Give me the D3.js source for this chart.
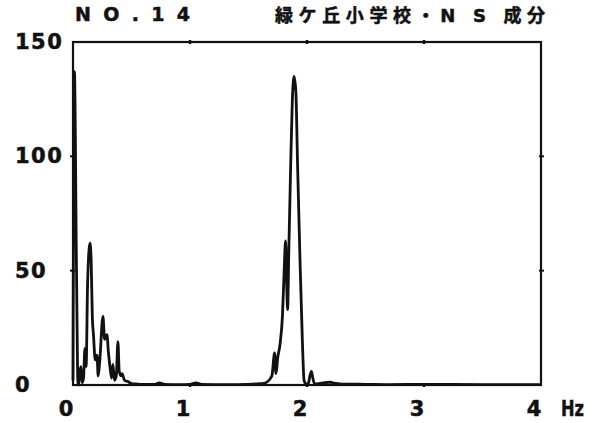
<!DOCTYPE html>
<html><head><meta charset="utf-8">
<script src="https://cdn.jsdelivr.net/npm/d3@7/dist/d3.min.js"></script>
<style>
html,body{margin:0;padding:0;background:#fff;}
svg{display:block;}
text{font-family:"DejaVu Sans","Noto Sans CJK JP",sans-serif;font-weight:bold;fill:#111;stroke:#111;stroke-width:0.5;}
</style></head>
<body>
<svg id="chart" width="602" height="423"></svg>
<script>
// ---- data ----
const titleLeft = "N O . 1 4";
const titleRight = "緑ケ丘小学校・N S 成分";
const xTicks = [0, 1, 2, 3, 4];
const yTicks = [0, 50, 100, 150];
const xUnit = "Hz";
const freq = [
  0.000, 0.012, 0.030, 0.043, 0.050, 0.060, 0.068, 0.078, 0.090, 0.102,
  0.112, 0.125, 0.145, 0.155, 0.165, 0.175, 0.190, 0.205, 0.215, 0.228,
  0.256, 0.270, 0.290, 0.303, 0.316, 0.330, 0.341, 0.355, 0.370, 0.384,
  0.395, 0.410, 0.420, 0.440, 0.470, 0.500, 0.550, 0.600, 0.700, 0.740,
  0.780, 0.900, 1.000, 1.050, 1.100, 1.300, 1.500, 1.600, 1.640, 1.663,
  1.700, 1.723, 1.735, 1.750, 1.770, 1.790, 1.805, 1.817, 1.826, 1.834,
  1.845, 1.860, 1.875, 1.890, 1.905, 1.920, 1.940, 1.960, 1.975, 1.990,
  2.010, 2.025, 2.038, 2.050, 2.065, 2.100, 2.150, 2.200, 2.230, 2.300,
  2.500, 2.700, 3.000, 3.500, 4.000
];
const amp = [
  2, 137, 50, 0, 1, 6, 8, 1, 3, 16,
  8, 45, 62, 55, 30, 22, 11, 13, 4, 10,
  30, 20, 22, 14, 8, 3, 9, 2, 4, 19,
  6, 4, 5, 2, 1.5, 0.6, 0.4, 0.3, 0.3, 0.9,
  0.3, 0.2, 0.3, 0.9, 0.3, 0.2, 0.3, 0.6, 0.8, 1.5,
  4, 14, 5, 12, 18, 30, 50, 63, 45, 33,
  60, 95, 125, 135, 128, 95, 55, 20, 2, 0.5,
  0.5, 4, 6, 3, 0.5, 0.6, 1, 1.2, 0.8, 0.4,
  0.3, 0.2, 0.3, 0.2, 0.2
];

// ---- layout ----
const L = 73, R = 541, T = 42, B = 385;
const svg = d3.select("#chart");
const x = d3.scaleLinear().domain([0, 4]).range([L, R]);
const y = d3.scaleLinear().domain([0, 150]).range([B, T]);

// frame
svg.append("rect").attr("x", L).attr("y", T).attr("width", R - L).attr("height", B - T)
  .attr("fill", "none").attr("stroke", "#111").attr("stroke-width", 2.2);

// tick marks on frame
const xt = xTicks.slice(1, -1);
svg.selectAll(".tt").data(xt).join("line")
  .attr("x1", d => x(d)).attr("x2", d => x(d)).attr("y1", T - 2).attr("y2", T + 2)
  .attr("stroke", "#111").attr("stroke-width", 2.5);
svg.selectAll(".tb").data(xt).join("line")
  .attr("x1", d => x(d)).attr("x2", d => x(d)).attr("y1", B - 2).attr("y2", B + 2)
  .attr("stroke", "#111").attr("stroke-width", 2.5);
const yt = yTicks.slice(1, -1);
svg.selectAll(".tl").data(yt).join("line")
  .attr("x1", L - 3).attr("x2", L + 2).attr("y1", d => y(d)).attr("y2", d => y(d))
  .attr("stroke", "#111").attr("stroke-width", 2);
svg.selectAll(".tr").data(yt).join("line")
  .attr("x1", R - 2).attr("x2", R + 3).attr("y1", d => y(d)).attr("y2", d => y(d))
  .attr("stroke", "#111").attr("stroke-width", 2);

// spectrum line
const pts = freq.map((f, i) => [f, amp[i]]);
const line = d3.line().x(d => x(d[0])).y(d => y(d[1])).curve(d3.curveMonotoneX);
svg.append("path").attr("d", line(pts)).attr("fill", "none")
  .attr("stroke", "#111").attr("stroke-width", 2.8).attr("stroke-linejoin", "round");

// y labels (left aligned)
svg.selectAll(".yl").data(yTicks).join("text")
  .attr("x", 15).attr("y", d => y(d) + 7)
  .attr("font-size", 21).attr("letter-spacing", 1.5)
  .text(d => d);

// x labels
svg.selectAll(".xl").data(xTicks).join("text")
  .attr("x", d => x(d) - 7).attr("y", 416).attr("text-anchor", "middle")
  .attr("font-size", 21).text(d => d);
svg.append("text").attr("x", 561).attr("y", 416).attr("font-size", 21)
  .attr("textLength", 23).attr("lengthAdjust", "spacingAndGlyphs").text(xUnit);

// titles
svg.append("text").attr("x", 75).attr("y", 21).attr("font-size", 19)
  .attr("textLength", 115).attr("lengthAdjust", "spacing").text(titleLeft);
svg.append("text").attr("x", 275).attr("y", 22).attr("font-size", 18)
  .attr("font-family", "'Noto Sans CJK JP',sans-serif")
  .attr("textLength", 270).attr("lengthAdjust", "spacing").text(titleRight);
</script>
</body></html>
